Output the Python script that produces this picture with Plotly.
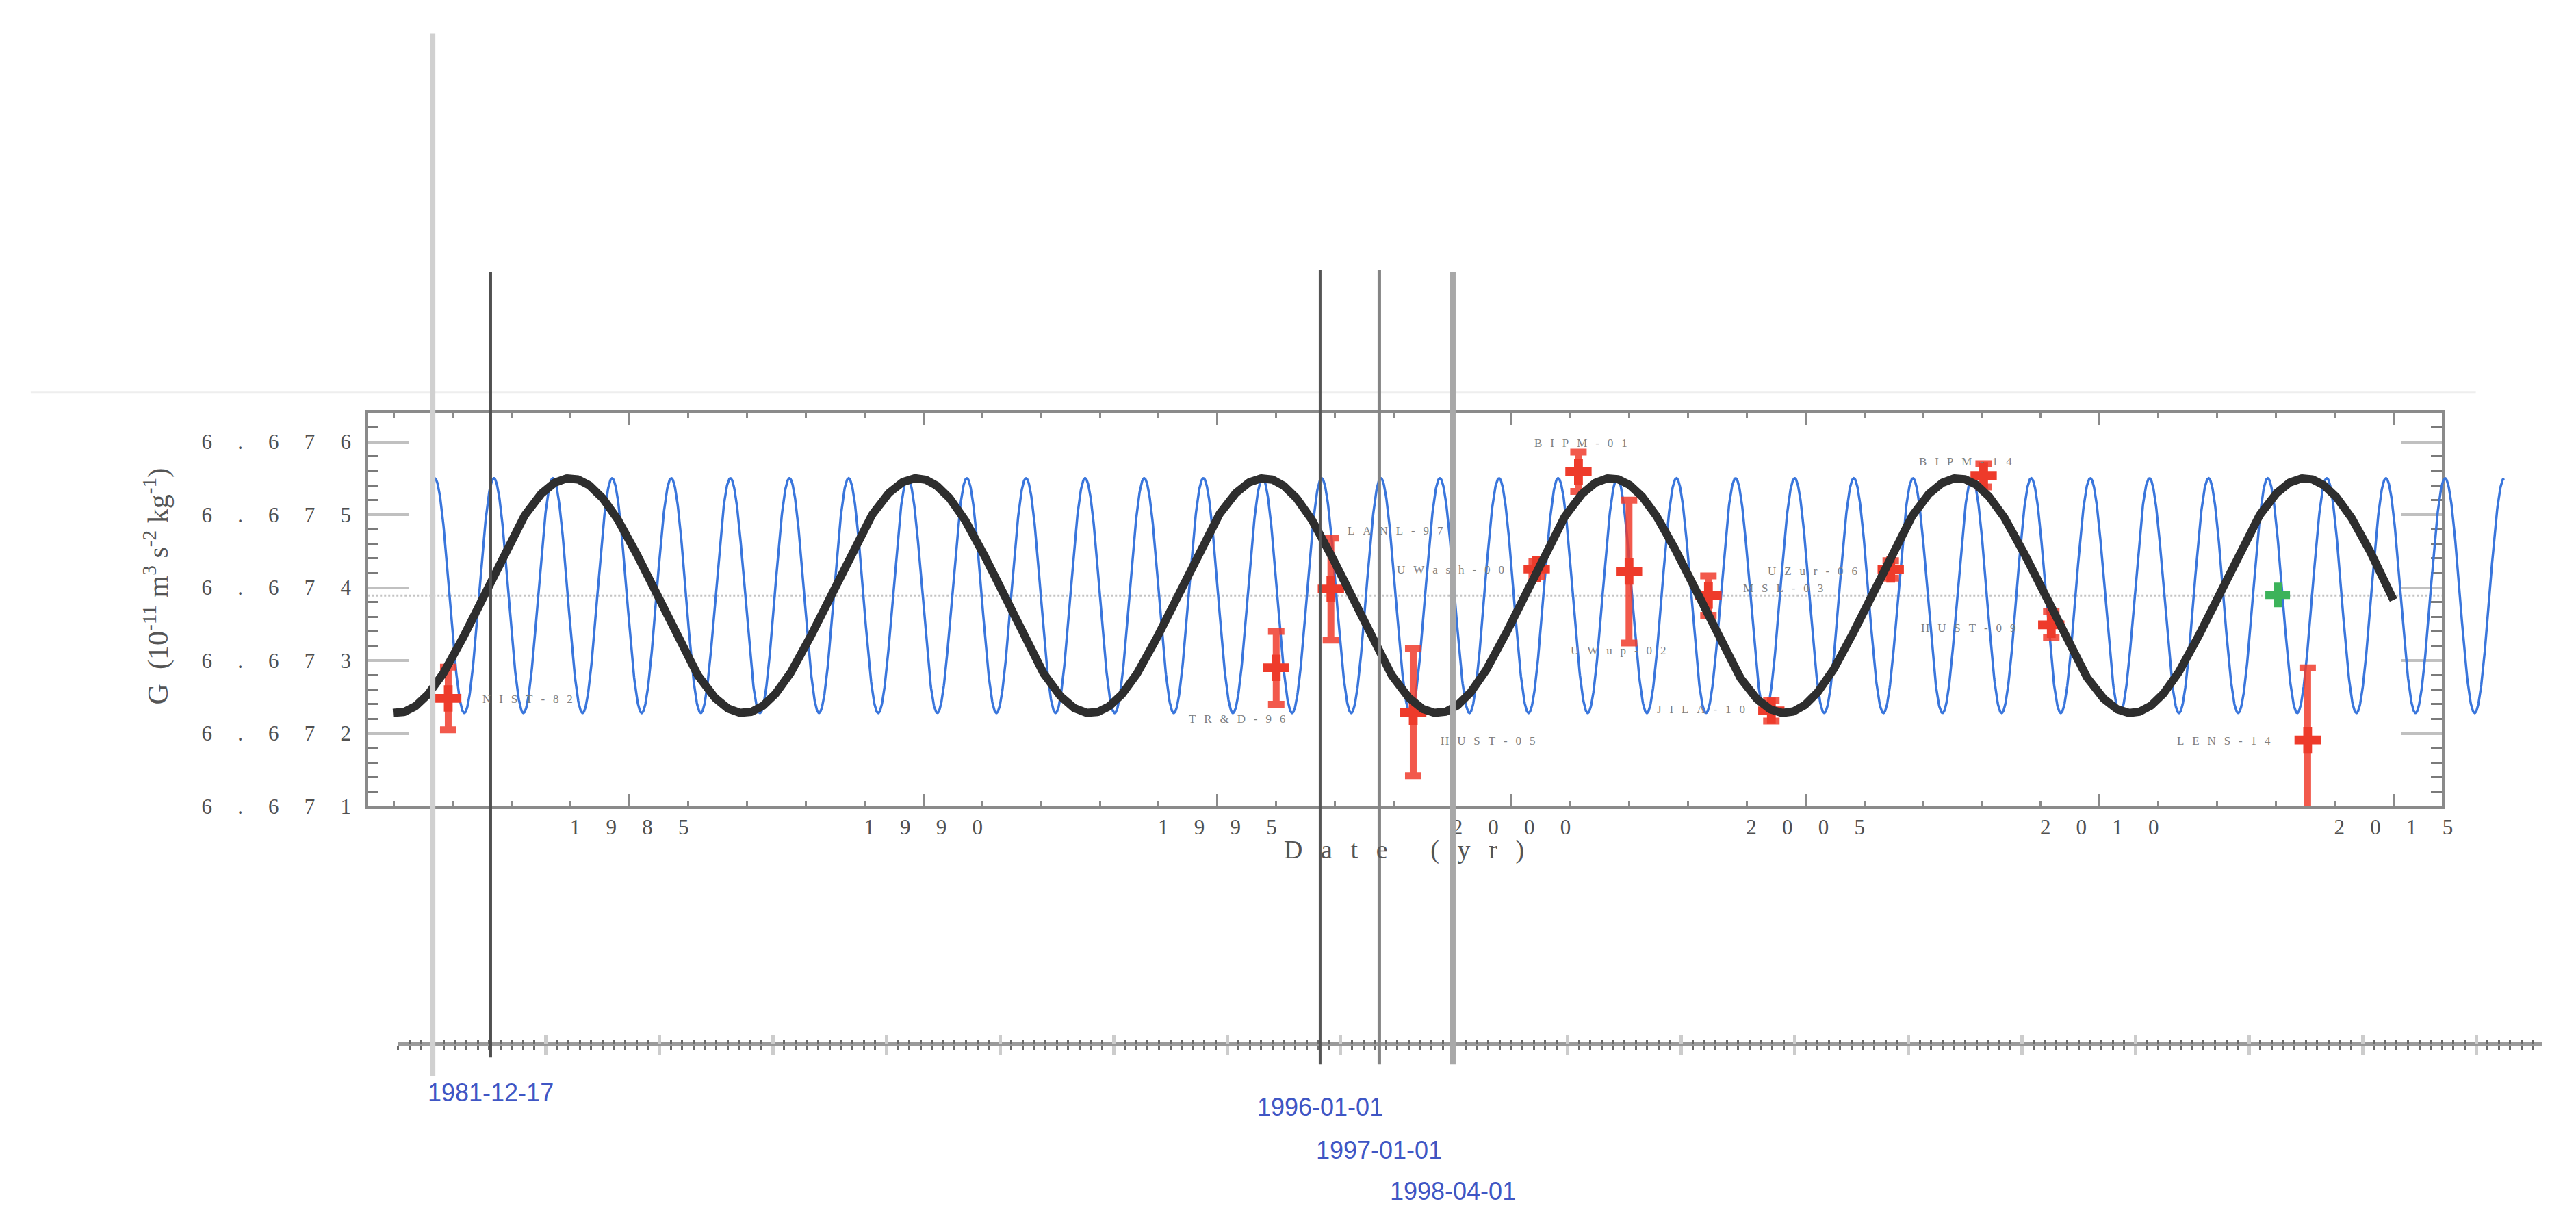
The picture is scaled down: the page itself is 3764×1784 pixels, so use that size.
import numpy as np
import pandas as pd
import plotly.graph_objects as go

# ------------------------------------------------------------------ data
meas_labels = ["NIST-82", "TR&D-96", "LANL-97", "HUST-05", "UWash-00", "BIPM-01", "UWup-02",
               "MSL-03", "JILA-10", "UZur-06", "BIPM-14", "HUST-09", "LENS-14"]
meas_year = [1981.92, 1996.00, 1996.93, 1998.33, 2000.43, 2001.14, 2002.00,
             2003.35, 2004.42, 2006.45, 2008.03, 2009.18, 2013.54]
meas_G = [6.67248, 6.67290, 6.67398, 6.67229, 6.674255, 6.67559, 6.67422,
          6.67389, 6.67231, 6.67425, 6.67554, 6.67349, 6.67191]
meas_err = [0.00043, 0.00050, 0.00070, 0.00087, 0.00010, 0.00027, 0.00098,
            0.00027, 0.00014, 0.00012, 0.00016, 0.00018, 0.00099]
# where each measurement's name is written (data coordinates)
label_year = [1983.27, 1995.33, 1998.03, 1999.60, 1998.97, 2001.18, 2001.82,
              2004.62, 2003.22, 2005.12, 2007.72, 2007.77, 2012.11]
label_G = [6.67247, 6.67220, 6.67478, 6.67190, 6.67424, 6.67598, 6.67314,
           6.67399, 6.67233, 6.67423, 6.67573, 6.67345, 6.67190]

green_year = [2013.03]
green_G = [6.67390]
green_err = [0.00005]

# fitted model curves (parameters)
G_MEAN = 6.67389
G_AMP = 0.00161
LOD_PERIOD = 5.9          # yr
LOD_PEAK = 1983.99
LOD_SPAN = [1980.98, 2015.00]
ANNUAL_PERIOD = 1.0055    # yr
ANNUAL_PEAK = 1981.69
ANNUAL_SPAN = [1981.69, 2016.88]

X_TICKS = [1985, 1990, 1995, 2000, 2005, 2010, 2015]
Y_TICKS = [6.671, 6.672, 6.673, 6.674, 6.675, 6.676]
X_RANGE = [1980.55, 2015.82]
Y_RANGE = [6.6710, 6.6764]

# timeline overlay
event_dates = ["1980-12-23", "1981-12-17", "1996-01-01", "1997-01-01", "1998-04-01"]
event_labels = ["", "1981-12-17", "1996-01-01", "1997-01-01", "1998-04-01"]

# ------------------------------------------------------------------ geometry helpers
W, H = 3764, 1784


def px(x):
    return x / W


def py(y):
    return 1 - y / H


EM, EN, THIN = "\u2003", "\u2002", "\u2009"


def spaced(s, gap):
    return gap.join(list(s))


FRAME_L, FRAME_R, FRAME_T, FRAME_B = 531.5, 3575, 601, 1182
WIDE_R = 3700
ppy = (FRAME_R - FRAME_L) / (X_RANGE[1] - X_RANGE[0])
X3_RANGE = [X_RANGE[0], X_RANGE[0] + (WIDE_R - FRAME_L) / ppy]

# timeline scale from two event positions
ta, tb = pd.Timestamp(event_dates[1]), pd.Timestamp(event_dates[4])
pa, pb = 712, 2124
mpp = (tb - ta) / (pb - pa)
TL_L, TL_R, TL_Y = 576, 3722, 1532
tl_range = [str(ta - (pa - TL_L) * mpp), str(ta + (TL_R - pa) * mpp)]
DAY_MS = 86400000
TL_TICK0 = "1982-11-23"
TL_MAJOR = 702 * DAY_MS
TL_MINOR = 70.2 * DAY_MS

# ------------------------------------------------------------------ figure
fig = go.Figure()

# mean level (dotted) on the framed subplot
fig.add_trace(go.Scatter(x=X_RANGE, y=[G_MEAN, G_MEAN], mode="lines",
                         line=dict(color="#c4c4c4", width=3, dash="dot"),
                         xaxis="x", yaxis="y", hoverinfo="skip", showlegend=False))

# annual sinusoid (blue) - extends past the frame
ta_ = np.linspace(ANNUAL_SPAN[0], ANNUAL_SPAN[1], 6000)
fig.add_trace(go.Scatter(x=ta_, y=G_MEAN + G_AMP * np.cos(2 * np.pi * (ta_ - ANNUAL_PEAK) / ANNUAL_PERIOD),
                         mode="lines", line=dict(color="#3a76dc", width=3.5),
                         xaxis="x3", yaxis="y", hoverinfo="skip", showlegend=False))

# measurements
fig.add_trace(go.Scatter(x=meas_year, y=meas_G, mode="markers",
                         marker=dict(symbol="cross", size=32, color="#ee3b2b"),
                         error_y=dict(type="data", array=meas_err, color="rgba(240,60,45,0.85)",
                                      thickness=10, width=12),
                         xaxis="x3", yaxis="y", hoverinfo="skip", showlegend=False))
fig.add_trace(go.Scatter(x=green_year, y=green_G, mode="markers",
                         marker=dict(symbol="cross", size=30, color="#3cb35a"),
                         error_y=dict(type="data", array=green_err, color="#3cb35a",
                                      thickness=6, width=6),
                         xaxis="x3", yaxis="y", hoverinfo="skip", showlegend=False))

# 5.9-yr LOD sinusoid (black)
tl_ = np.linspace(LOD_SPAN[0], LOD_SPAN[1], 3000)
fig.add_trace(go.Scatter(x=tl_, y=G_MEAN + G_AMP * np.cos(2 * np.pi * (tl_ - LOD_PEAK) / LOD_PERIOD),
                         mode="lines", line=dict(color="#2e2e2e", width=12),
                         xaxis="x3", yaxis="y", hoverinfo="skip", showlegend=False))

# invisible anchors for the timeline axes
for ax in ("x2", "x4"):
    fig.add_trace(go.Scatter(x=event_dates, y=[Y_RANGE[0]] * len(event_dates), mode="markers",
                             marker=dict(opacity=0), xaxis=ax, yaxis="y",
                             hoverinfo="skip", showlegend=False))

serif = "Liberation Serif"
tickfont = dict(family=serif, size=31, color="#505050")

fig.update_layout(
    width=W, height=H, autosize=False,
    margin=dict(l=0, r=0, t=0, b=0),
    paper_bgcolor="white", plot_bgcolor="rgba(0,0,0,0)",
    xaxis=dict(domain=[px(FRAME_L), px(FRAME_R)], range=X_RANGE, anchor="y",
               showline=True, linecolor="#8a8a8a", linewidth=4, mirror="ticks",
               ticks="inside", ticklen=18, tickwidth=3, tickcolor="#8a8a8a",
               tickmode="array", tickvals=X_TICKS,
               ticktext=[spaced(str(v), EM + THIN) for v in X_TICKS],
               tickfont=tickfont, showgrid=False, zeroline=False,
               minor=dict(tickmode="array", tickvals=list(range(1981, 2016)),
                          ticks="inside", ticklen=8, tickwidth=3, tickcolor="#8a8a8a",
                          showgrid=False)),
    yaxis=dict(domain=[py(FRAME_B), py(FRAME_T)], range=Y_RANGE, anchor="x",
               showline=True, linecolor="#8a8a8a", linewidth=4, mirror="ticks",
               ticks="inside", ticklen=60, tickwidth=4, tickcolor="#c0c0c0",
               tickmode="array", tickvals=Y_TICKS,
               ticktext=[spaced(f"{v:.3f}", EM + THIN) for v in Y_TICKS],
               tickfont=tickfont, ticklabelstandoff=14, showgrid=False, zeroline=False,
               minor=dict(tickmode="linear", tick0=6.671, dtick=0.0002,
                          ticks="inside", ticklen=16, tickwidth=3, tickcolor="#7a7a7a",
                          showgrid=False)),
    xaxis3=dict(domain=[px(FRAME_L), px(WIDE_R)], range=X3_RANGE, anchor="y", visible=False),
    xaxis2=dict(type="date", domain=[px(TL_L), px(TL_R)], range=tl_range,
                anchor="free", position=py(TL_Y),
                showline=True, linecolor="#9a9a9a", linewidth=5,
                ticks="outside", ticklen=13, tickwidth=5, tickcolor="#cccccc",
                tickmode="linear", tick0=TL_TICK0, dtick=TL_MAJOR,
                showticklabels=False, showgrid=False, zeroline=False,
                minor=dict(ticks="outside", ticklen=6, tickwidth=3, tickcolor="#6a6a6a",
                           tick0=TL_TICK0, dtick=TL_MINOR, showgrid=False)),
    xaxis4=dict(type="date", overlaying="x2", range=tl_range,
                anchor="free", position=py(TL_Y), showline=False,
                ticks="inside", ticklen=13, tickwidth=5, tickcolor="#cccccc",
                tickmode="linear", tick0=TL_TICK0, dtick=TL_MAJOR,
                showticklabels=False, showgrid=False, zeroline=False,
                minor=dict(ticks="inside", ticklen=6, tickwidth=3, tickcolor="#6a6a6a",
                           tick0=TL_TICK0, dtick=TL_MINOR, showgrid=False)),
)

# measurement names
for lab, xv, yv in zip(meas_labels, label_year, label_G):
    fig.add_annotation(x=xv, y=yv, xref="x", yref="y", text=spaced(lab, EN + THIN),
                       showarrow=False, xanchor="center", yanchor="middle",
                       font=dict(family=serif, size=17, color="#7f7f7f"))

# axis titles of the embedded chart
fig.add_annotation(x=px(2052), y=py(1246), xref="paper", yref="paper",
                   xanchor="center", yanchor="middle",
                   text=spaced("Date (yr)", EN + THIN), showarrow=False,
                   font=dict(family=serif, size=38, color="#555555"))
fig.add_annotation(x=px(222), y=py(857), xref="paper", yref="paper", textangle=-90,
                   xanchor="center", yanchor="middle",
                   text="G  (10<sup>-11</sup> m<sup>3</sup> s<sup>-2</sup> kg<sup>-1</sup>)",
                   showarrow=False, font=dict(family=serif, size=42, color="#555555"))

# faint edge of the embedded picture
fig.add_shape(type="line", xref="paper", yref="paper", x0=px(37), x1=px(3625),
              y0=py(571), y1=py(571), line=dict(color="#eeeeee", width=2))

# timeline event bars
bar_styles = [dict(color="#d0d0d0", width=8), dict(color="#505050", width=4),
              dict(color="#555555", width=4), dict(color="#858585", width=5),
              dict(color="#a8a8a8", width=8)]
bar_tops = [41, 393, 390, 390, 393]
bar_bottoms = [1580, 1553, 1563, 1563, 1563]
label_rows = [None, 1605, 1626, 1690, 1750]
for d, lab, st, t, b, ly in zip(event_dates, event_labels, bar_styles, bar_tops, bar_bottoms, label_rows):
    fig.add_shape(type="line", xref="x2", yref="paper", x0=d, x1=d, y0=py(b), y1=py(t),
                  line=st, layer="above")
    if lab:
        fig.add_annotation(x=d, y=py(ly), xref="x2", yref="paper", text=lab, showarrow=False,
                           xanchor="center", yanchor="middle",
                           font=dict(family="Liberation Sans", size=36, color="#3f56c4"))

fig.write_html("out.html")
